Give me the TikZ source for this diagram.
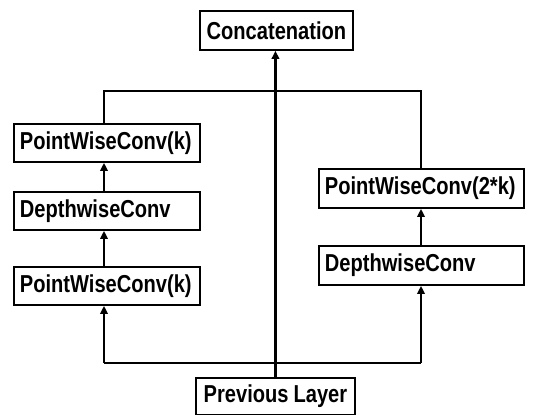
\documentclass[tikz,border=0pt]{standalone}
\usepackage{fontspec}
\setmainfont{Liberation Sans}[FakeStretch=0.82]
\usetikzlibrary{arrows.meta,calc}
\begin{document}
\begin{tikzpicture}[x=1pt,y=-1pt,
  block/.style={draw, line width=1.9pt, inner sep=0pt, anchor=north west,
    font=\fontsize{24.5}{26}\selectfont\bfseries, align=left},
  leftblock/.style={block, minimum width=186pt, minimum height=38pt, text width=174pt},
  rightblock/.style={block, minimum width=205pt, minimum height=39pt, text width=193pt},
  link/.style={line width=2.8pt},
  arr/.style={link, -{Triangle[length=8pt,width=7.5pt]}}]
\useasboundingbox (0,0) rectangle (541,415);

% top and bottom nodes
\node[block, minimum width=153pt, minimum height=39pt, align=center, text width=153pt] (concat) at (199,10) {Concatenation};
\node[block, minimum width=159pt, minimum height=37pt, align=center, text width=159pt] (prev) at (195,377) {Previous\hspace{5pt}Layer};

% left branch
\node[leftblock] (pwcA) at (13,123) {PointWiseConv(k)};
\node[leftblock] (dwcA) at (13,191) {DepthwiseConv};
\node[leftblock] (pwcB) at (13,266) {PointWiseConv(k)};

% right branch
\node[rightblock] (pwcC) at (318,168) {PointWiseConv(2*k)};
\node[rightblock] (dwcC) at (318,245) {DepthwiseConv};

% junction points of the split and merge bars
\coordinate (mergeL) at (104,91);
\coordinate (mergeR) at (421,91);
\coordinate (splitL) at (104,363);
\coordinate (splitR) at (421,363);

% merge bar
\draw[link] (mergeL |- pwcA.north) -- (mergeL) -- (mergeR) -- (mergeR |- pwcC.north);

% split bar
\draw[link] (splitL) -- (splitR);
\draw[arr] (splitL) -- (splitL |- pwcB.south);
\draw[arr] (splitR) -- (splitR |- dwcC.south);

% direct path
\draw[arr] (prev.north) -- (prev.north |- concat.south);

% inner links
\draw[arr] (pwcB.north -| mergeL) -- (dwcA.south -| mergeL);
\draw[arr] (dwcA.north -| mergeL) -- (pwcA.south -| mergeL);
\draw[arr] (dwcC.north -| mergeR) -- (pwcC.south -| mergeR);
\end{tikzpicture}
\end{document}
